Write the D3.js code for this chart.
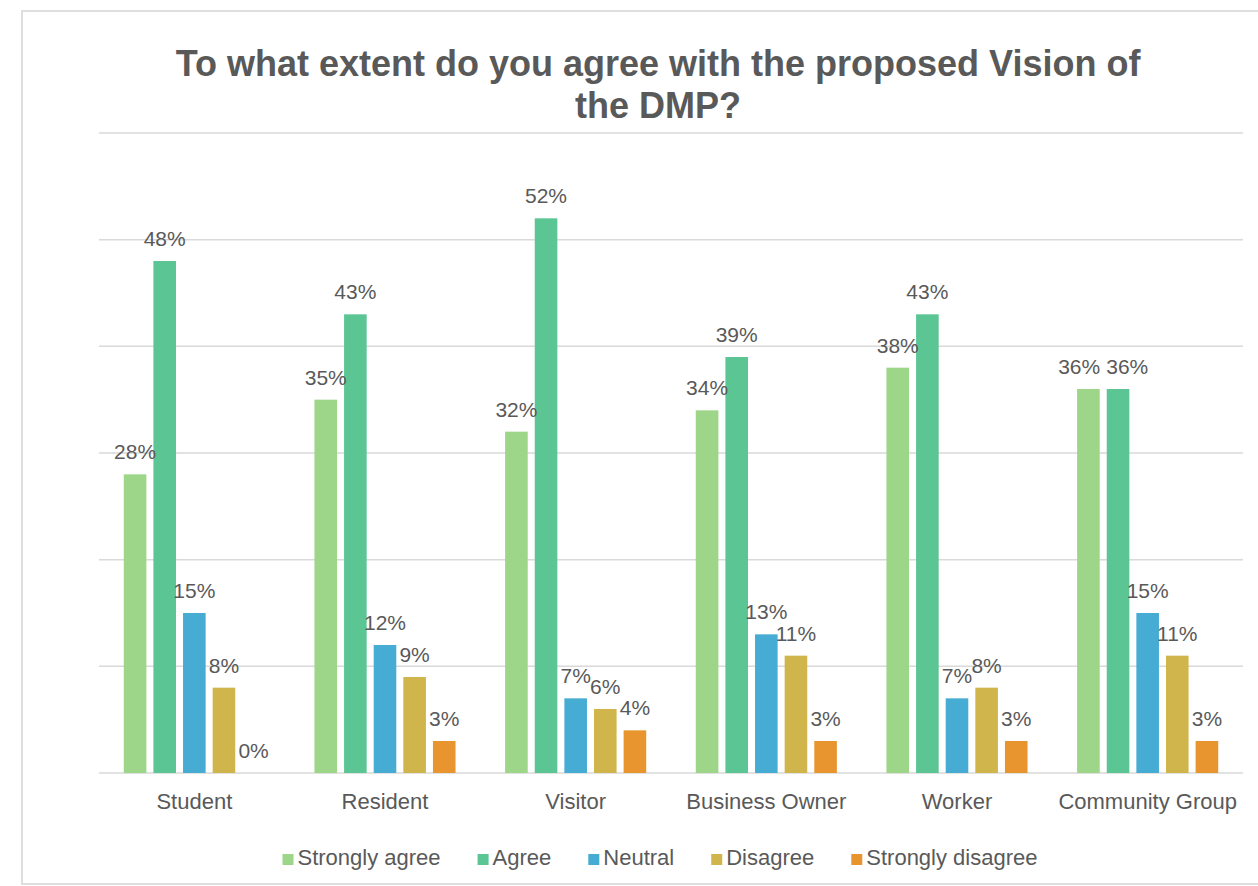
<!DOCTYPE html>
<html>
<head>
<meta charset="utf-8">
<script src="https://cdn.jsdelivr.net/npm/d3@7"></script>
<style>
  html, body { margin: 0; padding: 0; background: #ffffff; }
  svg { display: block; }
  text { font-family: "Liberation Sans", Arial, Helvetica, sans-serif; fill: #595959; }
</style>
</head>
<body>
<svg id="chart" width="1258" height="886"></svg>
<script>
// Respondent groups
const categories = ["Student", "Resident", "Visitor", "Business Owner", "Worker", "Community Group"];

// Answer options (series) and their colours
const seriesNames = ["Strongly agree", "Agree", "Neutral", "Disagree", "Strongly disagree"];
const seriesColors = ["#9dd589", "#5cc594", "#47acd3", "#d0b54d", "#e8952f"];

// Share of respondents (%) per group, one array per answer option
const stronglyAgree    = [28, 35, 32, 34, 38, 36];
const agree            = [48, 43, 52, 39, 43, 36];
const neutral          = [15, 12, 7, 13, 7, 15];
const disagree         = [8, 9, 6, 11, 8, 11];
const stronglyDisagree = [0, 3, 4, 3, 3, 3];

// Gridline values (no axis labels are shown)
const gridTicks = [0, 10, 20, 30, 40, 50, 60];

const titleLines = ["To what extent do you agree with the proposed Vision of", "the DMP?"];

const seriesValues = [stronglyAgree, agree, neutral, disagree, stronglyDisagree];

const svg = d3.select("#chart");

// Outer frame
svg.append("rect")
  .attr("x", 22).attr("y", 11)
  .attr("width", 1260).attr("height", 873)
  .attr("fill", "none")
  .attr("stroke", "#dedede")
  .attr("stroke-width", 2);

// Plot area
const plot = { left: 99, right: 1243, top: 133, bottom: 773 };

const x0 = d3.scaleBand()
  .domain(categories)
  .range([plot.left, plot.right])
  .padding(0);

const bw = x0.bandwidth();
const x1 = d3.scaleBand()
  .domain(seriesNames)
  .range([bw * 0.13, bw * 0.87])
  .paddingInner(0.237)
  .paddingOuter(0);

const y = d3.scaleLinear()
  .domain([0, 60])
  .range([plot.bottom, plot.top]);

// Horizontal gridlines
svg.append("g")
  .selectAll("line")
  .data(gridTicks)
  .join("line")
  .attr("x1", plot.left).attr("x2", plot.right)
  .attr("y1", d => y(d)).attr("y2", d => y(d))
  .attr("stroke", "#d9d9d9")
  .attr("stroke-width", 1.5);

// Title
svg.append("text")
  .attr("x", 658)
  .attr("text-anchor", "middle")
  .style("font-weight", "bold")
  .style("font-size", "36px")
  .selectAll("tspan")
  .data(titleLines)
  .join("tspan")
  .attr("x", 658)
  .attr("y", (d, i) => 76 + i * 42)
  .text(d => d);

// Bars and value labels
const rows = [];
categories.forEach((c, ci) => {
  seriesNames.forEach((s, si) => {
    rows.push({ category: c, series: s, color: seriesColors[si], value: seriesValues[si][ci] });
  });
});

const groups = svg.append("g");

groups.selectAll("rect.bar")
  .data(rows)
  .join("rect")
  .attr("class", "bar")
  .attr("x", d => x0(d.category) + x1(d.series))
  .attr("width", x1.bandwidth())
  .attr("y", d => y(d.value))
  .attr("height", d => y(0) - y(d.value))
  .attr("fill", d => d.color);

const labels = groups.selectAll("text.value")
  .data(rows)
  .join("text")
  .attr("class", "value")
  .attr("x", d => x0(d.category) + x1(d.series) + x1.bandwidth() / 2)
  .attr("y", d => y(d.value) - 15)
  .attr("text-anchor", "middle")
  .style("font-size", "21px")
  .text(d => d.value + "%");

// Push apart neighbouring value labels that would collide
const labelNodes = labels.nodes();
for (let i = 0; i < labelNodes.length - 1; i++) {
  const a = labelNodes[i], b = labelNodes[i + 1];
  const da = d3.select(a).datum(), db = d3.select(b).datum();
  if (da.category !== db.category) continue;
  const ba = a.getBBox(), bb = b.getBBox();
  const vOverlap = ba.y < bb.y + bb.height && bb.y < ba.y + ba.height;
  const hOverlap = ba.x + ba.width + 6 - bb.x;
  if (vOverlap && Math.abs(ba.y - bb.y) < 4 && hOverlap > 0) {
    d3.select(a).attr("x", +d3.select(a).attr("x") - hOverlap / 2);
    d3.select(b).attr("x", +d3.select(b).attr("x") + hOverlap / 2);
  }
}

// Category axis labels
const xAxis = d3.axisBottom(x0).tickSize(0).tickPadding(0);
const axisG = svg.append("g")
  .attr("transform", `translate(0,${plot.bottom})`)
  .call(xAxis);
axisG.select(".domain").remove();
axisG.selectAll("text")
  .attr("dy", null)
  .attr("y", 36)
  .style("font-size", "22px")
  .style("font-family", "\"Liberation Sans\", Arial, sans-serif")
  .attr("fill", "#595959");

// Legend
const legend = svg.append("g");
const items = legend.selectAll("g")
  .data(seriesNames)
  .join("g");
items.append("rect")
  .attr("width", 11).attr("height", 11)
  .attr("y", -11)
  .attr("fill", (d, i) => seriesColors[i]);
items.append("text")
  .attr("x", 15)
  .style("font-size", "22px")
  .text(d => d);

let cx = 0;
const gap = 37;
const widths = [];
items.each(function () {
  const w = 15 + d3.select(this).select("text").node().getComputedTextLength();
  widths.push(w);
});
items.attr("transform", (d, i) => {
  const t = `translate(${cx},0)`;
  cx += widths[i] + gap;
  return t;
});
const total = cx - gap;
legend.attr("transform", `translate(${660 - total / 2},865)`);
</script>
</body>
</html>
